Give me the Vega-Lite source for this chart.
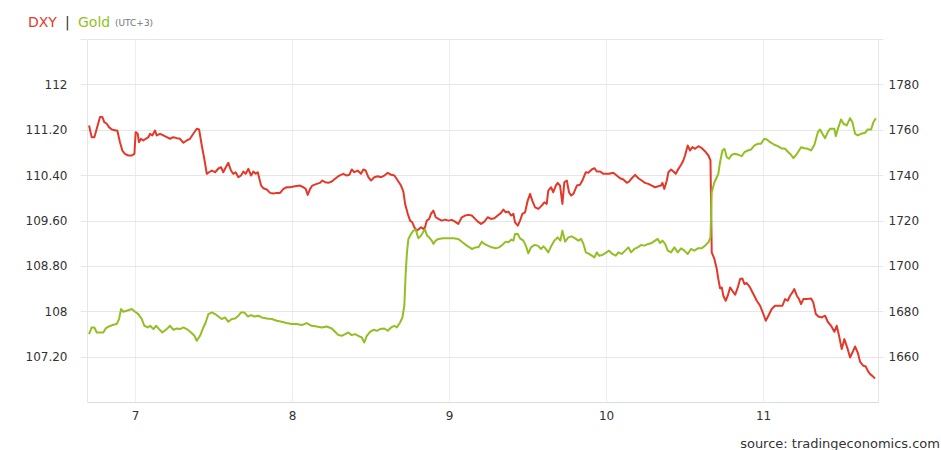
{
  "$schema": "https://vega.github.io/schema/vega-lite/v6.json",
  "width": 791,
  "height": 363,
  "autosize": "none",
  "padding": {"left": 87, "top": 39, "right": 63, "bottom": 48},
  "background": "white",
  "config": {
    "view": {"stroke": null},
    "font": "DejaVu Sans"
  },
  "title": {
    "text": "source: tradingeconomics.com",
    "orient": "bottom",
    "anchor": "end",
    "frame": "group",
    "dx": 62,
    "offset": 17,
    "font": "DejaVu Sans",
    "fontSize": 13,
    "fontWeight": "normal",
    "color": "#333333"
  },
  "datasets": {
    "dxy": [
      {"t":6.707,"v":111.276},{"t":6.724,"v":111.069},{"t":6.741,"v":111.069},{"t":6.756,"v":111.218},{"t":6.777,"v":111.423},{"t":6.792,"v":111.423},{"t":6.804,"v":111.334},{"t":6.820,"v":111.306},{"t":6.834,"v":111.246},{"t":6.852,"v":111.205},{"t":6.877,"v":111.188},{"t":6.887,"v":111.188},{"t":6.904,"v":110.981},{"t":6.919,"v":110.834},{"t":6.936,"v":110.776},{"t":6.957,"v":110.746},{"t":6.979,"v":110.746},{"t":6.996,"v":110.776},{"t":7.004,"v":111.158},{"t":7.017,"v":111.129},{"t":7.025,"v":110.981},{"t":7.038,"v":111.041},{"t":7.053,"v":111.011},{"t":7.068,"v":111.041},{"t":7.085,"v":111.069},{"t":7.096,"v":111.129},{"t":7.110,"v":111.099},{"t":7.127,"v":111.188},{"t":7.138,"v":111.099},{"t":7.159,"v":111.129},{"t":7.180,"v":111.099},{"t":7.202,"v":111.069},{"t":7.223,"v":111.041},{"t":7.244,"v":111.069},{"t":7.266,"v":111.052},{"t":7.287,"v":111.041},{"t":7.308,"v":110.970},{"t":7.329,"v":111.011},{"t":7.350,"v":111.041},{"t":7.371,"v":111.129},{"t":7.393,"v":111.218},{"t":7.408,"v":111.205},{"t":7.425,"v":110.923},{"t":7.441,"v":110.688},{"t":7.457,"v":110.423},{"t":7.471,"v":110.451},{"t":7.489,"v":110.481},{"t":7.510,"v":110.451},{"t":7.531,"v":110.517},{"t":7.548,"v":110.540},{"t":7.562,"v":110.451},{"t":7.578,"v":110.540},{"t":7.594,"v":110.617},{"t":7.611,"v":110.481},{"t":7.626,"v":110.423},{"t":7.641,"v":110.451},{"t":7.658,"v":110.363},{"t":7.675,"v":110.393},{"t":7.690,"v":110.464},{"t":7.705,"v":110.423},{"t":7.722,"v":110.511},{"t":7.739,"v":110.393},{"t":7.754,"v":110.464},{"t":7.769,"v":110.423},{"t":7.782,"v":110.451},{"t":7.792,"v":110.335},{"t":7.803,"v":110.216},{"t":7.817,"v":110.169},{"t":7.839,"v":110.146},{"t":7.860,"v":110.087},{"t":7.881,"v":110.075},{"t":7.903,"v":110.087},{"t":7.924,"v":110.087},{"t":7.945,"v":110.158},{"t":7.966,"v":110.186},{"t":7.987,"v":110.186},{"t":8.019,"v":110.204},{"t":8.051,"v":110.216},{"t":8.072,"v":110.186},{"t":8.087,"v":110.158},{"t":8.100,"v":110.052},{"t":8.115,"v":110.158},{"t":8.129,"v":110.216},{"t":8.157,"v":110.246},{"t":8.178,"v":110.264},{"t":8.193,"v":110.305},{"t":8.210,"v":110.275},{"t":8.231,"v":110.264},{"t":8.253,"v":110.287},{"t":8.274,"v":110.335},{"t":8.295,"v":110.381},{"t":8.312,"v":110.405},{"t":8.327,"v":110.423},{"t":8.348,"v":110.393},{"t":8.365,"v":110.405},{"t":8.380,"v":110.499},{"t":8.397,"v":110.451},{"t":8.418,"v":110.481},{"t":8.439,"v":110.423},{"t":8.454,"v":110.499},{"t":8.469,"v":110.481},{"t":8.486,"v":110.363},{"t":8.503,"v":110.305},{"t":8.524,"v":110.363},{"t":8.546,"v":110.381},{"t":8.567,"v":110.363},{"t":8.588,"v":110.393},{"t":8.610,"v":110.441},{"t":8.631,"v":110.405},{"t":8.652,"v":110.393},{"t":8.673,"v":110.305},{"t":8.694,"v":110.216},{"t":8.709,"v":110.110},{"t":8.720,"v":109.893},{"t":8.737,"v":109.717},{"t":8.752,"v":109.598},{"t":8.766,"v":109.568},{"t":8.779,"v":109.480},{"t":8.794,"v":109.422},{"t":8.809,"v":109.452},{"t":8.822,"v":109.480},{"t":8.836,"v":109.452},{"t":8.847,"v":109.480},{"t":8.858,"v":109.598},{"t":8.873,"v":109.628},{"t":8.885,"v":109.717},{"t":8.900,"v":109.775},{"t":8.915,"v":109.657},{"t":8.932,"v":109.628},{"t":8.953,"v":109.598},{"t":8.975,"v":109.616},{"t":8.996,"v":109.598},{"t":9.017,"v":109.611},{"t":9.038,"v":109.581},{"t":9.059,"v":109.540},{"t":9.081,"v":109.657},{"t":9.102,"v":109.687},{"t":9.123,"v":109.699},{"t":9.145,"v":109.687},{"t":9.166,"v":109.628},{"t":9.183,"v":109.581},{"t":9.204,"v":109.540},{"t":9.225,"v":109.581},{"t":9.246,"v":109.657},{"t":9.268,"v":109.628},{"t":9.289,"v":109.639},{"t":9.310,"v":109.687},{"t":9.331,"v":109.734},{"t":9.346,"v":109.793},{"t":9.361,"v":109.745},{"t":9.378,"v":109.757},{"t":9.395,"v":109.687},{"t":9.410,"v":109.717},{"t":9.420,"v":109.568},{"t":9.438,"v":109.510},{"t":9.452,"v":109.598},{"t":9.467,"v":109.717},{"t":9.484,"v":109.745},{"t":9.501,"v":109.951},{"t":9.516,"v":110.070},{"t":9.530,"v":109.951},{"t":9.548,"v":109.833},{"t":9.569,"v":109.805},{"t":9.590,"v":109.863},{"t":9.607,"v":109.921},{"t":9.622,"v":109.893},{"t":9.632,"v":110.128},{"t":9.650,"v":110.186},{"t":9.664,"v":110.098},{"t":9.680,"v":110.216},{"t":9.692,"v":110.264},{"t":9.707,"v":110.216},{"t":9.722,"v":109.893},{"t":9.734,"v":110.275},{"t":9.750,"v":110.305},{"t":9.764,"v":110.098},{"t":9.777,"v":110.040},{"t":9.792,"v":110.070},{"t":9.814,"v":110.216},{"t":9.834,"v":110.229},{"t":9.849,"v":110.305},{"t":9.871,"v":110.451},{"t":9.887,"v":110.441},{"t":9.909,"v":110.499},{"t":9.926,"v":110.522},{"t":9.941,"v":110.464},{"t":9.962,"v":110.464},{"t":9.983,"v":110.423},{"t":10.004,"v":110.423},{"t":10.019,"v":110.423},{"t":10.046,"v":110.441},{"t":10.068,"v":110.393},{"t":10.089,"v":110.345},{"t":10.110,"v":110.322},{"t":10.132,"v":110.264},{"t":10.146,"v":110.287},{"t":10.164,"v":110.345},{"t":10.185,"v":110.405},{"t":10.206,"v":110.345},{"t":10.227,"v":110.305},{"t":10.248,"v":110.264},{"t":10.269,"v":110.246},{"t":10.291,"v":110.216},{"t":10.312,"v":110.186},{"t":10.333,"v":110.204},{"t":10.350,"v":110.216},{"t":10.359,"v":110.264},{"t":10.371,"v":110.158},{"t":10.387,"v":110.305},{"t":10.397,"v":110.451},{"t":10.414,"v":110.499},{"t":10.429,"v":110.464},{"t":10.444,"v":110.423},{"t":10.461,"v":110.511},{"t":10.478,"v":110.582},{"t":10.492,"v":110.658},{"t":10.503,"v":110.746},{"t":10.520,"v":110.923},{"t":10.535,"v":110.834},{"t":10.550,"v":110.893},{"t":10.567,"v":110.864},{"t":10.588,"v":110.910},{"t":10.610,"v":110.875},{"t":10.631,"v":110.817},{"t":10.652,"v":110.746},{"t":10.665,"v":110.658},{"t":10.669,"v":109.863},{"t":10.673,"v":109.038},{"t":10.690,"v":108.922},{"t":10.705,"v":108.745},{"t":10.715,"v":108.569},{"t":10.726,"v":108.403},{"t":10.737,"v":108.420},{"t":10.747,"v":108.274},{"t":10.762,"v":108.185},{"t":10.775,"v":108.274},{"t":10.790,"v":108.420},{"t":10.804,"v":108.362},{"t":10.822,"v":108.290},{"t":10.839,"v":108.420},{"t":10.854,"v":108.569},{"t":10.868,"v":108.579},{"t":10.881,"v":108.480},{"t":10.896,"v":108.498},{"t":10.917,"v":108.420},{"t":10.938,"v":108.304},{"t":10.960,"v":108.185},{"t":10.981,"v":108.097},{"t":11.002,"v":107.951},{"t":11.017,"v":107.832},{"t":11.034,"v":107.921},{"t":11.055,"v":108.039},{"t":11.076,"v":108.097},{"t":11.102,"v":108.097},{"t":11.123,"v":108.097},{"t":11.140,"v":108.215},{"t":11.157,"v":108.185},{"t":11.172,"v":108.274},{"t":11.187,"v":108.332},{"t":11.199,"v":108.392},{"t":11.215,"v":108.274},{"t":11.229,"v":108.215},{"t":11.242,"v":108.127},{"t":11.257,"v":108.215},{"t":11.278,"v":108.215},{"t":11.306,"v":108.226},{"t":11.320,"v":108.155},{"t":11.336,"v":107.951},{"t":11.352,"v":107.908},{"t":11.374,"v":107.890},{"t":11.395,"v":107.921},{"t":11.412,"v":107.815},{"t":11.433,"v":107.744},{"t":11.454,"v":107.638},{"t":11.469,"v":107.744},{"t":11.484,"v":107.567},{"t":11.501,"v":107.333},{"t":11.518,"v":107.509},{"t":11.539,"v":107.333},{"t":11.554,"v":107.184},{"t":11.569,"v":107.272},{"t":11.586,"v":107.378},{"t":11.603,"v":107.272},{"t":11.618,"v":107.108},{"t":11.639,"v":107.038},{"t":11.654,"v":107.025},{"t":11.667,"v":106.949},{"t":11.682,"v":106.891},{"t":11.696,"v":106.861},{"t":11.713,"v":106.813}
    ],
    "gold": [
      {"t":6.707,"v":1669.93},{"t":6.724,"v":1672.85},{"t":6.741,"v":1672.85},{"t":6.756,"v":1670.64},{"t":6.777,"v":1670.64},{"t":6.798,"v":1670.64},{"t":6.813,"v":1672.41},{"t":6.834,"v":1673.29},{"t":6.855,"v":1673.91},{"t":6.883,"v":1674.35},{"t":6.898,"v":1676.56},{"t":6.911,"v":1680.97},{"t":6.925,"v":1679.78},{"t":6.947,"v":1680.22},{"t":6.979,"v":1680.97},{"t":7.000,"v":1679.78},{"t":7.021,"v":1678.76},{"t":7.043,"v":1676.56},{"t":7.059,"v":1673.60},{"t":7.081,"v":1672.85},{"t":7.096,"v":1673.60},{"t":7.117,"v":1672.14},{"t":7.134,"v":1673.60},{"t":7.153,"v":1672.14},{"t":7.174,"v":1670.64},{"t":7.202,"v":1672.14},{"t":7.223,"v":1673.60},{"t":7.244,"v":1671.83},{"t":7.266,"v":1672.41},{"t":7.287,"v":1672.14},{"t":7.308,"v":1672.85},{"t":7.329,"v":1672.14},{"t":7.357,"v":1670.64},{"t":7.378,"v":1669.18},{"t":7.393,"v":1666.98},{"t":7.414,"v":1669.18},{"t":7.435,"v":1672.85},{"t":7.450,"v":1675.06},{"t":7.467,"v":1678.76},{"t":7.489,"v":1679.47},{"t":7.510,"v":1678.76},{"t":7.531,"v":1677.70},{"t":7.552,"v":1676.56},{"t":7.573,"v":1677.26},{"t":7.594,"v":1675.36},{"t":7.616,"v":1676.56},{"t":7.637,"v":1676.82},{"t":7.658,"v":1678.01},{"t":7.675,"v":1679.47},{"t":7.696,"v":1679.47},{"t":7.718,"v":1677.70},{"t":7.739,"v":1678.32},{"t":7.760,"v":1677.70},{"t":7.785,"v":1678.01},{"t":7.807,"v":1677.26},{"t":7.839,"v":1676.82},{"t":7.871,"v":1676.56},{"t":7.903,"v":1675.81},{"t":7.934,"v":1675.36},{"t":7.966,"v":1674.79},{"t":7.998,"v":1674.35},{"t":8.030,"v":1674.35},{"t":8.062,"v":1673.91},{"t":8.094,"v":1674.79},{"t":8.125,"v":1673.60},{"t":8.157,"v":1673.29},{"t":8.189,"v":1672.85},{"t":8.221,"v":1673.29},{"t":8.253,"v":1672.41},{"t":8.274,"v":1670.95},{"t":8.295,"v":1669.49},{"t":8.317,"v":1669.18},{"t":8.338,"v":1669.93},{"t":8.359,"v":1670.64},{"t":8.380,"v":1669.49},{"t":8.401,"v":1669.93},{"t":8.422,"v":1669.18},{"t":8.444,"v":1668.43},{"t":8.460,"v":1666.23},{"t":8.476,"v":1669.18},{"t":8.497,"v":1670.95},{"t":8.518,"v":1671.83},{"t":8.539,"v":1671.39},{"t":8.561,"v":1672.14},{"t":8.588,"v":1672.41},{"t":8.610,"v":1671.39},{"t":8.631,"v":1672.85},{"t":8.652,"v":1673.60},{"t":8.667,"v":1672.85},{"t":8.688,"v":1675.06},{"t":8.703,"v":1677.26},{"t":8.715,"v":1682.43},{"t":8.724,"v":1697.13},{"t":8.732,"v":1705.96},{"t":8.741,"v":1711.88},{"t":8.758,"v":1714.08},{"t":8.773,"v":1715.54},{"t":8.788,"v":1715.98},{"t":8.804,"v":1712.14},{"t":8.822,"v":1713.33},{"t":8.836,"v":1715.10},{"t":8.847,"v":1715.98},{"t":8.860,"v":1713.33},{"t":8.873,"v":1712.58},{"t":8.890,"v":1711.13},{"t":8.900,"v":1709.67},{"t":8.915,"v":1711.13},{"t":8.932,"v":1711.88},{"t":8.964,"v":1712.14},{"t":8.996,"v":1712.14},{"t":9.027,"v":1712.14},{"t":9.059,"v":1711.88},{"t":9.085,"v":1710.38},{"t":9.113,"v":1708.92},{"t":9.145,"v":1707.46},{"t":9.170,"v":1708.17},{"t":9.187,"v":1708.17},{"t":9.209,"v":1710.68},{"t":9.225,"v":1709.67},{"t":9.246,"v":1708.92},{"t":9.272,"v":1708.17},{"t":9.297,"v":1707.73},{"t":9.318,"v":1708.17},{"t":9.339,"v":1709.23},{"t":9.361,"v":1710.68},{"t":9.378,"v":1710.38},{"t":9.395,"v":1711.57},{"t":9.410,"v":1711.13},{"t":9.420,"v":1714.08},{"t":9.438,"v":1714.08},{"t":9.452,"v":1712.14},{"t":9.473,"v":1711.13},{"t":9.489,"v":1708.92},{"t":9.505,"v":1705.52},{"t":9.522,"v":1708.17},{"t":9.543,"v":1709.23},{"t":9.565,"v":1708.92},{"t":9.586,"v":1707.46},{"t":9.601,"v":1708.61},{"t":9.616,"v":1707.46},{"t":9.632,"v":1705.96},{"t":9.650,"v":1708.61},{"t":9.671,"v":1711.13},{"t":9.692,"v":1712.58},{"t":9.709,"v":1711.13},{"t":9.722,"v":1715.54},{"t":9.739,"v":1710.68},{"t":9.760,"v":1712.58},{"t":9.781,"v":1713.02},{"t":9.803,"v":1712.14},{"t":9.824,"v":1711.13},{"t":9.841,"v":1711.88},{"t":9.856,"v":1709.67},{"t":9.871,"v":1705.96},{"t":9.892,"v":1705.25},{"t":9.909,"v":1704.50},{"t":9.926,"v":1703.75},{"t":9.941,"v":1705.96},{"t":9.955,"v":1704.50},{"t":9.976,"v":1704.81},{"t":9.998,"v":1705.70},{"t":10.019,"v":1706.71},{"t":10.040,"v":1705.25},{"t":10.062,"v":1704.50},{"t":10.078,"v":1705.96},{"t":10.100,"v":1705.25},{"t":10.121,"v":1706.71},{"t":10.142,"v":1708.17},{"t":10.159,"v":1705.96},{"t":10.180,"v":1707.46},{"t":10.202,"v":1708.17},{"t":10.223,"v":1709.23},{"t":10.244,"v":1708.92},{"t":10.269,"v":1709.67},{"t":10.291,"v":1710.11},{"t":10.312,"v":1711.13},{"t":10.329,"v":1711.88},{"t":10.344,"v":1710.11},{"t":10.359,"v":1711.13},{"t":10.376,"v":1709.67},{"t":10.393,"v":1706.71},{"t":10.414,"v":1705.96},{"t":10.435,"v":1708.17},{"t":10.457,"v":1705.96},{"t":10.478,"v":1707.73},{"t":10.499,"v":1706.71},{"t":10.520,"v":1705.25},{"t":10.541,"v":1707.46},{"t":10.562,"v":1706.71},{"t":10.584,"v":1707.73},{"t":10.610,"v":1707.73},{"t":10.631,"v":1708.92},{"t":10.652,"v":1710.38},{"t":10.665,"v":1712.58},{"t":10.669,"v":1722.16},{"t":10.673,"v":1732.45},{"t":10.690,"v":1736.87},{"t":10.705,"v":1739.07},{"t":10.715,"v":1740.57},{"t":10.726,"v":1745.70},{"t":10.741,"v":1750.86},{"t":10.754,"v":1751.61},{"t":10.769,"v":1747.90},{"t":10.783,"v":1747.20},{"t":10.801,"v":1748.96},{"t":10.822,"v":1749.40},{"t":10.843,"v":1748.96},{"t":10.864,"v":1748.34},{"t":10.881,"v":1750.11},{"t":10.903,"v":1750.86},{"t":10.924,"v":1751.30},{"t":10.945,"v":1753.07},{"t":10.966,"v":1753.82},{"t":10.987,"v":1753.82},{"t":11.008,"v":1756.03},{"t":11.024,"v":1755.72},{"t":11.045,"v":1754.53},{"t":11.072,"v":1753.38},{"t":11.094,"v":1752.76},{"t":11.115,"v":1751.88},{"t":11.140,"v":1751.61},{"t":11.161,"v":1750.11},{"t":11.178,"v":1748.96},{"t":11.193,"v":1747.46},{"t":11.208,"v":1748.65},{"t":11.225,"v":1750.42},{"t":11.242,"v":1752.32},{"t":11.263,"v":1751.88},{"t":11.285,"v":1751.61},{"t":11.306,"v":1750.86},{"t":11.327,"v":1753.38},{"t":11.349,"v":1758.94},{"t":11.363,"v":1760.13},{"t":11.378,"v":1758.23},{"t":11.395,"v":1756.29},{"t":11.412,"v":1758.94},{"t":11.427,"v":1760.44},{"t":11.441,"v":1760.44},{"t":11.454,"v":1760.44},{"t":11.463,"v":1757.17},{"t":11.480,"v":1761.15},{"t":11.497,"v":1764.55},{"t":11.512,"v":1762.65},{"t":11.533,"v":1761.90},{"t":11.554,"v":1765.12},{"t":11.569,"v":1763.35},{"t":11.586,"v":1758.23},{"t":11.603,"v":1757.48},{"t":11.624,"v":1758.23},{"t":11.650,"v":1758.68},{"t":11.667,"v":1760.13},{"t":11.688,"v":1760.13},{"t":11.703,"v":1763.35},{"t":11.718,"v":1765.12}
    ]
  },
  "layer": [
    {
      "data": {"name": "dxy"},
      "mark": {"type": "line", "strokeWidth": 2, "strokeJoin": "round"},
      "encoding": {
        "x": {
          "field": "t", "type": "quantitative",
          "scale": {"domain": [6.694, 11.732], "nice": false, "zero": false},
          "axis": {
            "title": null, "values": [7, 8, 9, 10, 11], "format": "d",
            "grid": true, "gridColor": "#e9eff4", "domain": true, "domainColor": "#dcdcdc",
            "ticks": false, "labelPadding": 8, "labelColor": "#333333",
            "labelFont": "DejaVu Sans", "labelFontSize": 12
          }
        },
        "y": {
          "field": "v", "type": "quantitative",
          "scale": {"domain": [106.4, 112.8], "nice": false, "zero": false},
          "axis": {
            "title": null, "orient": "left",
            "values": [107.2, 108, 108.8, 109.6, 110.4, 111.2, 112, 112.8],
            "labelExpr": "datum.value > 112.5 ? '' : (datum.value % 1 == 0 ? format(datum.value, 'd') : format(datum.value, '.2f'))",
            "grid": true, "gridColor": "#e6e6e6", "domain": true, "domainColor": "#e6e6e6",
            "ticks": true, "tickColor": "#e6e6e6", "tickSize": 7, "labelPadding": 13,
            "labelColor": "#333333", "labelFont": "DejaVu Sans", "labelFontSize": 12
          }
        },
        "color": {
          "datum": "DXY", "type": "nominal",
          "scale": {"domain": ["DXY", "|", "Gold"], "range": ["#e2392a", "#333333", "#93bf24"]},
          "legend": {
            "orient": "none", "legendX": -73, "legendY": -23,
            "direction": "horizontal", "values": ["DXY", "|", "Gold"],
            "gridAlign": "none",
            "title": "(UTC+3)", "titleOrient": "right", "titleFontSize": 9,
            "titleFontWeight": "normal", "titleColor": "#777777", "titleFont": "DejaVu Sans",
            "titlePadding": 5, "titleBaseline": "middle",
            "labelFont": "DejaVu Sans", "labelFontSize": 14, "labelOffset": 0,
            "symbolSize": 0, "symbolStrokeWidth": 0, "symbolOpacity": 0,
            "columnPadding": -6, "padding": 0,
            "encode": {"labels": {"update": {"fill": {"scale": "color", "field": "value"}}}}
          }
        }
      }
    },
    {
      "data": {"name": "gold"},
      "mark": {"type": "line", "strokeWidth": 2, "strokeJoin": "round"},
      "encoding": {
        "x": {"field": "t", "type": "quantitative"},
        "y": {
          "field": "v", "type": "quantitative",
          "scale": {"domain": [1640, 1800], "nice": false, "zero": false},
          "axis": {
            "title": null, "orient": "right",
            "values": [1660, 1680, 1700, 1720, 1740, 1760, 1780, 1800],
            "labelExpr": "datum.value > 1790 ? '' : format(datum.value, 'd')",
            "grid": false, "domain": true, "domainColor": "#e6e6e6",
            "ticks": true, "tickColor": "#e6e6e6", "tickSize": 5, "labelPadding": 5,
            "labelColor": "#333333", "labelFont": "DejaVu Sans", "labelFontSize": 12
          }
        },
        "color": {"datum": "Gold", "type": "nominal"}
      }
    }
  ],
  "resolve": {"scale": {"y": "independent"}, "axis": {"y": "independent"}}
}
